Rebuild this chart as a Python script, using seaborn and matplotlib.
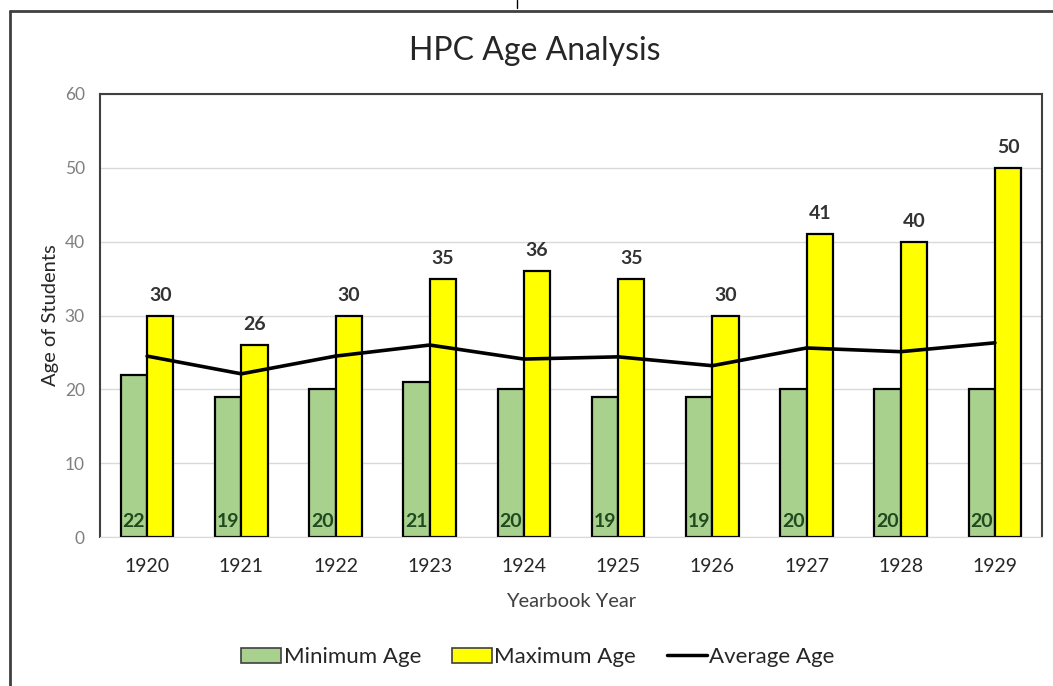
import numpy as np
import pandas as pd
import matplotlib
matplotlib.use("Agg")
import matplotlib.pyplot as plt
from matplotlib.lines import Line2D
from matplotlib.patches import Patch
import seaborn as sns

# data
years = ['1920', '1921', '1922', '1923', '1924', '1925', '1926', '1927', '1928', '1929']
min_age = [22, 19, 20, 21, 20, 19, 19, 20, 20, 20]
max_age = [30, 26, 30, 35, 36, 35, 30, 41, 40, 50]
avg_age = [24.5, 22.1, 24.5, 26.0, 24.1, 24.4, 23.2, 25.6, 25.1, 26.3]

green = '#A9D18E'
yellow = '#FFFF00'

sns.set_style('white')
plt.rcParams['font.family'] = ['Lato', 'DejaVu Sans']

df = pd.DataFrame({
    'year': years * 2,
    'age': min_age + max_age,
    'series': ['Minimum Age'] * len(years) + ['Maximum Age'] * len(years),
})

fig = plt.figure(figsize=(10.53, 6.86), dpi=100)
ax = fig.add_axes([100 / 1053, 1 - 537 / 686, 942 / 1053, 443 / 686])

sns.barplot(data=df, x='year', y='age', hue='series', order=years,
            palette=[green, yellow], saturation=1, edgecolor='black', linewidth=1.6,
            width=0.56, gap=0, legend=False, ax=ax)
sns.lineplot(x=np.arange(len(years)), y=avg_age, color='black', linewidth=2.6, ax=ax)

ax.set_xlim(-0.5, len(years) - 0.5)
ax.set_ylim(0, 60)
ax.set_yticks(range(0, 61, 10))
ax.yaxis.grid(True, color='#D9D9D9', linewidth=1)
ax.set_axisbelow(True)
for s in ['left', 'top', 'right']:
    ax.spines[s].set_color('#404040')
    ax.spines[s].set_linewidth(1.5)
ax.spines['bottom'].set_color('#D9D9D9')
ax.tick_params(axis='y', length=0, labelsize=12.5, labelcolor='#7F7F7F', pad=11)
ax.tick_params(axis='x', length=0, labelsize=14, labelcolor='#262626', pad=15)
ax.set_xlabel('Yearbook Year', fontsize=14.5, color='#404040', labelpad=13)
ax.set_ylabel('Age of Students', fontsize=14.5, color='#262626', labelpad=4)

# value labels
bw = 0.28
for i in range(len(years)):
    ax.text(i + bw / 2, max_age[i] + 1.6, str(max_age[i]), ha='center', va='bottom',
            fontsize=14, fontweight='bold', color='#333333')
    ax.text(i - bw / 2, 1.0, str(min_age[i]), ha='center', va='bottom',
            fontsize=14, fontweight='bold', color='#1E4A1E')

fig.text(0.508, 0.925, 'HPC Age Analysis', ha='center', va='center',
         fontsize=23, color='#262626')

handles = [
    Patch(facecolor=green, edgecolor='#404040', linewidth=1.2, label='Minimum Age'),
    Patch(facecolor=yellow, edgecolor='#404040', linewidth=1.2, label='Maximum Age'),
    Line2D([], [], color='black', linewidth=2.5, label='Average Age'),
]
fig.legend(handles=handles, loc='center', bbox_to_anchor=(0.511, 0.042), ncol=3,
           frameon=False, fontsize=16, handlelength=1.8, handletextpad=0.1,
           columnspacing=1.4, labelcolor='#262626')

# outer chart frame (left and top edges only are visible)
fig.add_artist(Line2D([10 / 1053, 10 / 1053], [0, 1 - 11 / 686], color='#404040', linewidth=2,
                      transform=fig.transFigure))
fig.add_artist(Line2D([10 / 1053, 1], [1 - 11 / 686, 1 - 11 / 686], color='#404040',
                      linewidth=2, transform=fig.transFigure))
fig.add_artist(Line2D([517 / 1053, 517 / 1053], [1, 1 - 8 / 686], color='black', linewidth=1,
                      transform=fig.transFigure))

fig.savefig('out.png', dpi=100)
